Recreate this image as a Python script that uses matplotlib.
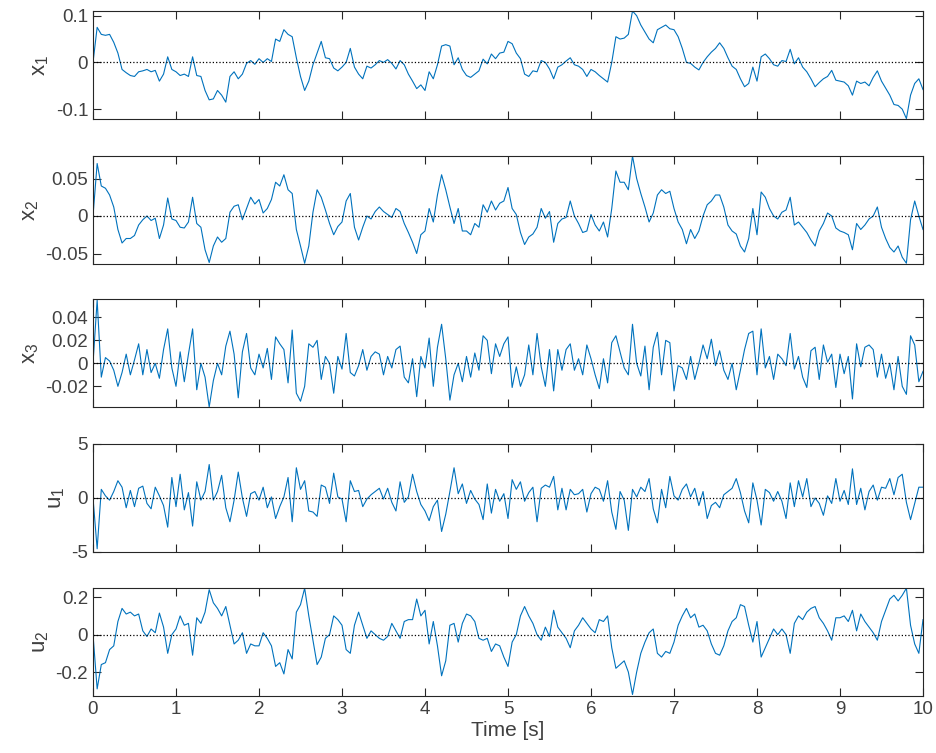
import numpy as np
import matplotlib
matplotlib.use("Agg")
import matplotlib.pyplot as plt

plt.rcParams['font.family'] = ['Liberation Sans', 'DejaVu Sans']
plt.rcParams['mathtext.fontset'] = 'custom'
plt.rcParams['mathtext.rm'] = 'Liberation Sans'
plt.rcParams['axes.unicode_minus'] = False

# time grid, 0.05 s steps
t = np.linspace(0, 10, 201)

# values, one row per 0.5 s
x1 = [0, 0.075, 0.06, 0.058, 0.06, 0.043, 0.02, -0.015, -0.022, -0.028,
      -0.03, -0.02, -0.018, -0.015, -0.02, -0.017, -0.04, -0.025, 0.012, -0.015,
      -0.02, -0.028, -0.025, -0.03, 0.012, -0.028, -0.03, -0.06, -0.08, -0.078,
      -0.06, -0.07, -0.085, -0.03, -0.02, -0.035, -0.025, -0.002, 0.004, -0.004,
      0.008, 0.0, 0.008, 0.002, 0.05, 0.045, 0.07, 0.06, 0.055, 0.01,
      -0.03, -0.06, -0.04, -0.005, 0.02, 0.045, 0.01, 0.008, -0.012, -0.018,
      -0.01, 0.0, 0.03, -0.01, -0.025, -0.035, -0.008, -0.012, -0.005, 0.004,
      0.0, 0.006, -0.002, -0.014, 0.004, -0.005, -0.025, -0.04, -0.056, -0.048,
      -0.06, -0.02, -0.035, -0.005, 0.035, 0.038, 0.035, -0.005, 0.01, -0.015,
      -0.028, -0.032, -0.025, -0.018, 0.007, -0.003, 0.018, 0.008, 0.02, 0.022,
      0.045, 0.04, 0.02, 0.008, -0.025, -0.03, -0.018, -0.02, 0.004, 0.0,
      -0.014, -0.035, -0.01, -0.005, 0.003, 0.01, -0.005, -0.008, -0.015, -0.03,
      -0.015, -0.02, -0.028, -0.035, -0.042, 0.0, 0.055, 0.05, 0.052, 0.06,
      0.11, 0.1, 0.08, 0.065, 0.05, 0.042, 0.07, 0.075, 0.08, 0.072,
      0.07, 0.055, 0.03, 0.0, -0.002, -0.01, -0.016, 0.0, 0.012, 0.022,
      0.03, 0.042, 0.03, 0.01, -0.008, -0.015, -0.035, -0.052, -0.045, -0.01,
      -0.04, 0.012, 0.018, 0.008, -0.005, -0.008, 0.004, 0.002, 0.028, -0.003,
      0.01, -0.01, -0.02, -0.035, -0.052, -0.043, -0.035, -0.03, -0.017, -0.038,
      -0.04, -0.042, -0.05, -0.07, -0.04, -0.045, -0.042, -0.05, -0.032, -0.018,
      -0.04, -0.055, -0.07, -0.09, -0.092, -0.1, -0.12, -0.07, -0.045, -0.035,
      -0.058]

x2 = [0, 0.07, 0.04, 0.037, 0.028, 0.012, -0.018, -0.036, -0.03, -0.03,
      -0.026, -0.012, -0.005, 0.0, -0.006, -0.003, -0.03, -0.012, 0.024, -0.004,
      -0.006, -0.015, -0.016, -0.008, 0.025, -0.01, -0.015, -0.045, -0.062, -0.04,
      -0.028, -0.035, -0.03, 0.005, 0.013, 0.015, -0.005, 0.01, 0.025, 0.016,
      0.022, 0.004, 0.01, 0.022, 0.045, 0.04, 0.055, 0.035, 0.03, -0.018,
      -0.04, -0.063, -0.04, 0.005, 0.035, 0.025, 0.008, -0.01, -0.025, -0.014,
      -0.008, 0.02, 0.03, -0.015, -0.032, -0.015, 0.0, -0.004, 0.006, 0.012,
      0.006, 0.002, -0.002, 0.01, 0.006, -0.01, -0.022, -0.035, -0.05, -0.025,
      -0.02, 0.01, -0.008, 0.028, 0.055, 0.035, 0.012, -0.01, 0.01, -0.02,
      -0.02, -0.025, -0.01, -0.015, 0.015, 0.005, 0.02, 0.008, 0.017, 0.02,
      0.038, 0.01, 0.002, -0.022, -0.038, -0.028, -0.024, -0.015, 0.01, -0.003,
      0.006, -0.035, -0.01, -0.004, -0.002, 0.02, 0.0, -0.01, -0.022, -0.02,
      0.002, -0.012, -0.02, -0.008, -0.028, 0.01, 0.06, 0.045, 0.045, 0.035,
      0.08, 0.05, 0.03, 0.012, -0.008, 0.004, 0.028, 0.035, 0.03, 0.033,
      0.01, -0.008, -0.018, -0.037, -0.018, -0.03, -0.02, 0.0, 0.015, 0.02,
      0.028, 0.028, 0.012, -0.012, -0.02, -0.024, -0.04, -0.048, -0.03, 0.01,
      -0.025, 0.032, 0.025, 0.01, 0.0, -0.004, 0.005, 0.008, 0.025, -0.012,
      -0.008, -0.015, -0.022, -0.032, -0.04, -0.02, -0.01, 0.004, 0.0, -0.016,
      -0.02, -0.022, -0.025, -0.045, -0.01, -0.018, -0.012, -0.004, 0.0, 0.012,
      -0.015, -0.03, -0.042, -0.048, -0.04, -0.055, -0.063, -0.005, 0.02, 0.0,
      -0.018]

x3 = [0, 0.055, -0.012, 0.005, 0.002, -0.006, -0.02, -0.008, 0.008, -0.01,
      0.003, 0.017, -0.01, 0.012, -0.008, 0.0, -0.013, 0.012, 0.03, -0.004,
      -0.02, 0.01, -0.016, 0.008, 0.03, -0.023, 0.0, -0.012, -0.038, -0.015,
      0.0, -0.01, 0.015, 0.028, 0.008, -0.03, 0.01, 0.026, -0.004, -0.01,
      0.008, -0.004, 0.013, -0.014, 0.023, 0.017, 0.012, -0.017, 0.029, -0.026,
      -0.033, -0.02, 0.017, 0.014, 0.02, -0.014, 0.006, 0.0, -0.026, 0.006,
      -0.005, 0.026, -0.008, -0.011, -0.002, 0.012, -0.006, 0.006, 0.01, 0.008,
      -0.01, 0.006, -0.004, 0.012, 0.015, -0.012, -0.017, 0.004, -0.029, 0.006,
      -0.004, 0.022, -0.02, 0.014, 0.034, 0.004, -0.032, -0.01, 0.0, -0.016,
      0.006, -0.012, 0.009, -0.006, 0.024, 0.02, -0.009, 0.017, 0.006, 0.017,
      0.023, -0.021, -0.003, -0.02, -0.01, 0.016, -0.01, 0.026, -0.003, -0.02,
      0.012, -0.024, 0.012, -0.006, 0.012, 0.017, -0.006, 0.004, -0.01, 0.016,
      0.004, -0.01, -0.022, 0.004, -0.017, 0.018, 0.024, 0.01, -0.004, -0.01,
      0.034, 0.0, -0.011, 0.015, -0.023, 0.014, 0.027, -0.01, 0.02, 0.018,
      -0.024, -0.002, -0.004, -0.014, 0.006, -0.014, 0.0, 0.016, 0.004, 0.021,
      -0.002, 0.011, -0.006, -0.014, 0.0, -0.023, -0.006, 0.012, 0.026, 0.028,
      -0.01, 0.03, -0.004, 0.006, -0.014, 0.008, 0.004, -0.002, 0.026, -0.005,
      0.006, -0.012, -0.021, 0.011, 0.014, -0.014, 0.016, 0.001, 0.008, -0.021,
      0.008, -0.009, 0.006, -0.031, 0.017, -0.003, 0.014, 0.016, 0.012, -0.012,
      0.008, -0.013, 0.0, -0.023, 0.006, -0.02, -0.027, 0.024, 0.016, -0.016,
      -0.007]

u1 = [0, -4.7, 0.8, 0.2, -0.2, 0.6, 1.6, 1.0, -0.9, 0.7,
      -0.8, 0.9, 1.1, -0.5, -1.0, 1.0, 0.2, -0.7, -2.7, 1.9,
      -0.8, 2.2, -1.1, 0.5, -2.6, 1.5, -0.2, 0.6, 3.1, -0.2,
      0.6, 2.1, -0.9, -2.2, -0.2, 2.4, 0.0, -1.7, 0.4, 0.6,
      -0.2, 1.0, -0.9, 0.1, -1.9, -0.8, 0.1, 1.9, -2.2, 2.8,
      0.8, 1.6, -1.2, -1.3, -1.7, 1.2, 1.0, -0.5, 2.3, 0.1,
      -0.1, -2.2, 1.6, 0.6, 0.7, -0.8, -0.1, 0.3, 0.6, 0.9,
      -0.1, 0.9, -0.4, -1.2, 1.5, -0.4, 0.1, 2.2, 0.6, -0.6,
      -1.2, -2.1, -0.8, -0.2, -3.1, -1.5, 0.6, 2.8, 0.4, 1.3,
      -0.5, 0.7, -0.1, -0.6, -2.0, 1.3, -1.4, 0.8, -0.3, 0.4,
      -1.9, 1.7, 0.8, 1.5, -0.3, 0.5, 1.0, -2.2, 0.9, 1.2,
      1.0, 2.0, -1.1, 0.9, -1.1, 0.8, 0.3, 0.4, 0.8, -1.3,
      0.4, 1.0, 0.8, -0.3, 1.6, -1.3, -2.9, 0.6, -0.2, -3.0,
      0.8, 0.1, 1.0, 0.6, 1.8, -1.0, -2.3, 0.8, -0.9, 2.0,
      0.2, -0.2, 0.8, 1.3, 0.1, 0.9, -0.7, 0.6, -1.9, -0.7,
      -0.4, -0.9, 0.3, 0.6, 0.9, 1.8, 0.5, -1.2, -2.3, 1.4,
      -0.2, -2.5, 0.8, 0.5, -0.3, 0.6, -0.3, -1.9, 1.4, -0.8,
      1.6, 0.1, 1.8, -0.8, 0.0, -0.5, -1.6, 0.2, -0.5, 1.8,
      -0.3, 0.7, -0.6, 2.7, -0.6, 0.9, -1.1, 0.6, 1.2, -0.2,
      1.0, 0.9, 1.8, 0.3, 1.9, 2.2, -0.4, -2.0, -0.5, 1.0,
      1.0]

u2 = [0, -0.29, -0.16, -0.15, -0.08, -0.06, 0.07, 0.14, 0.11, 0.12,
      0.1, 0.11, 0.02, -0.01, 0.03, 0.01, 0.115, 0.04, -0.1, 0.0,
      0.03, 0.1, 0.05, 0.06, -0.11, 0.09, 0.06, 0.12, 0.24, 0.17,
      0.14, 0.1, 0.15, 0.05, -0.05, -0.03, 0.01, -0.1, -0.05, -0.06,
      -0.06, 0.01, -0.02, -0.06, -0.17, -0.15, -0.21, -0.08, -0.13, 0.12,
      0.16, 0.248, 0.1, -0.03, -0.16, -0.12, -0.02, 0.0, 0.1, 0.08,
      0.05, -0.08, -0.1, 0.05, 0.12, 0.05, -0.02, 0.02, 0.0, -0.02,
      -0.03, -0.01, 0.06, 0.02, -0.02, 0.07, 0.08, 0.08, 0.19, 0.1,
      0.13, -0.05, 0.07, -0.06, -0.22, -0.14, 0.05, 0.06, -0.04, 0.06,
      0.11, 0.1, 0.07, -0.02, -0.03, -0.02, -0.09, -0.05, -0.06, -0.12,
      -0.17, -0.04, 0.0, 0.1, 0.15, 0.1, 0.06, 0.0, -0.03, 0.04,
      -0.01, 0.13, 0.04, 0.01, -0.02, -0.07, 0.02, 0.05, 0.09, 0.06,
      0.03, 0.01, 0.08, 0.07, 0.1, -0.07, -0.18, -0.16, -0.14, -0.2,
      -0.32, -0.2, -0.1, -0.04, 0.01, 0.03, -0.1, -0.12, -0.09, -0.1,
      -0.04, 0.05, 0.1, 0.14, 0.09, 0.11, 0.04, 0.05, 0.02, -0.05,
      -0.1, -0.11, -0.06, 0.02, 0.07, 0.09, 0.16, 0.15, 0.05, -0.04,
      0.07, -0.12, -0.07, -0.02, 0.03, 0.0, 0.03, 0.0, -0.1, 0.06,
      0.1, 0.08, 0.12, 0.14, 0.15, 0.09, 0.06, 0.02, -0.03, 0.09,
      0.09, 0.1, 0.07, 0.13, 0.02, 0.11, 0.07, 0.04, 0.01, -0.03,
      0.07, 0.13, 0.19, 0.21, 0.18, 0.21, 0.248, 0.05, -0.05, -0.1,
      0.08]

series = [x1, x2, x3, u1, u2]
labels = [r'$\mathrm{x_1}$', r'$\mathrm{x_2}$', r'$\mathrm{x_3}$',
          r'$\mathrm{u_1}$', r'$\mathrm{u_2}$']
ylims = [(-0.121, 0.11), (-0.064, 0.08), (-0.038, 0.056), (-5, 5), (-0.328, 0.249)]
yticks = [[-0.1, 0, 0.1], [-0.05, 0, 0.05], [-0.02, 0, 0.02, 0.04],
          [-5, 0, 5], [-0.2, 0, 0.2]]
yticklabels = [['-0.1', '0', '0.1'], ['-0.05', '0', '0.05'],
               ['-0.02', '0', '0.02', '0.04'], ['-5', '0', '5'],
               ['-0.2', '0', '0.2']]
xticks = list(range(0, 11))

W, H = 936, 753
fig = plt.figure(figsize=(W / 100, H / 100), dpi=100)
tops = [11, 156, 299, 444, 588]
ax_h = 108
dark = '#262626'

for i in range(5):
    ax = fig.add_axes([93 / W, 1 - (tops[i] + ax_h) / H, 830 / W, ax_h / H])
    ax.plot(t, series[i], color='#0072BD', lw=0.8)
    ax.axhline(0, color='k', ls=':', lw=0.9)
    ax.set_xlim(0, 10)
    ax.set_ylim(*ylims[i])
    ax.set_xticks(xticks)
    ax.set_yticks(yticks[i])
    ax.set_yticklabels(yticklabels[i])
    ax.tick_params(direction='in', top=True, right=True, length=6,
                   width=0.8, color=dark, labelcolor='#404040', labelsize=13.5)
    for s in ax.spines.values():
        s.set_color(dark)
        s.set_linewidth(0.8)
    ax.set_ylabel(labels[i], fontsize=16, color='#404040', labelpad=3)
    if i < 4:
        ax.set_xticklabels([])
    else:
        ax.set_xlabel('Time [s]', fontsize=15, color='#404040', labelpad=2)

fig.savefig('out.png', dpi=100)
